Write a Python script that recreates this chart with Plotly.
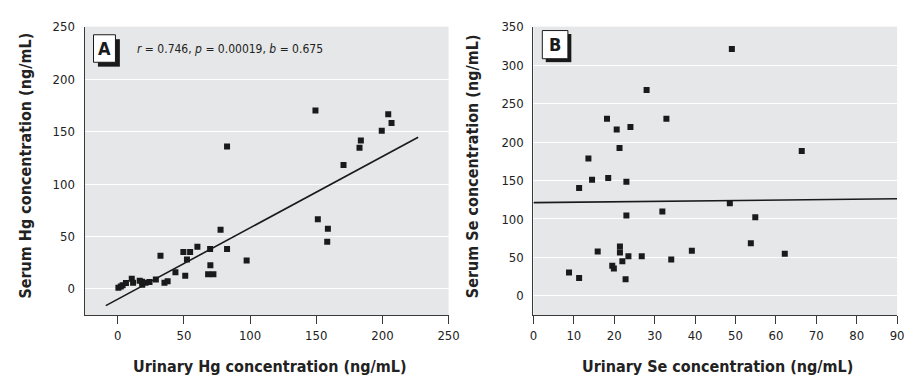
import plotly.graph_objects as go
from plotly.subplots import make_subplots

# ---------------- Data ----------------
# Panel A: urinary Hg vs serum Hg (ng/mL)
hg_urinary = [0.5, 2.3, 3.7, 6.2, 10.6, 11.6, 16.6, 18.5, 18.3, 21.0, 24.0, 28.8, 32.3,
              35.3, 37.7, 43.6, 51.0, 49.6, 54.7, 52.3, 60.2, 69.8, 82.6, 77.7, 70.0,
              68.3, 72.3, 97.4, 82.6, 151.2, 158.8, 158.3, 149.4, 204.4, 206.9, 199.5,
              183.7, 182.7, 170.6]
hg_serum = [1.2, 2.2, 3.5, 5.6, 9.6, 5.9, 7.8, 4.0, 6.9, 5.9, 6.6, 9.1, 31.6,
            5.9, 7.2, 15.9, 12.5, 35.3, 35.3, 28.1, 40.3, 38.1, 38.1, 56.5, 22.6,
            14.0, 14.0, 27.2, 135.8, 66.5, 57.4, 44.9, 170.1, 166.4, 158.2, 150.7,
            141.4, 134.5, 118.0]
hg_fit_x = [-9, 227]
hg_fit_y = [-15.9, 144.5]
hg_stats = "<i>r</i> = 0.746, <i>p</i> = 0.00019, <i>b</i> = 0.675"

# Panel B: urinary Se vs serum Se (ng/mL)
se_urinary = [49.1, 28.0, 18.2, 32.9, 20.6, 24.0, 21.3, 13.6, 66.4, 14.5, 18.5, 23.0,
              11.3, 48.6, 31.9, 23.0, 54.9, 53.8, 62.2, 39.2, 34.1, 26.8, 23.5, 21.4,
              21.4, 22.0, 15.9, 19.5, 19.9, 22.8, 8.8, 11.3]
se_serum = [321.0, 267.8, 230.4, 230.4, 216.4, 219.4, 192.1, 178.6, 188.3, 150.9, 153.4,
            148.3, 140.3, 120.3, 109.7, 104.6, 102.4, 68.4, 54.8, 58.7, 47.2, 51.4, 51.4,
            64.2, 56.5, 45.0, 57.8, 39.1, 35.7, 21.7, 30.6, 23.3]
se_fit_x = [0, 90]
se_fit_y = [121.2, 126.3]

hg_xticks = [0, 50, 100, 150, 200, 250]
hg_yticks = [0, 50, 100, 150, 200, 250]
se_xticks = [0, 10, 20, 30, 40, 50, 60, 70, 80, 90]
se_yticks = [0, 50, 100, 150, 200, 250, 300, 350]

hg_xtitle = "Urinary Hg concentration (ng/mL)"
hg_ytitle = "Serum Hg concentration (ng/mL)"
se_xtitle = "Urinary Se concentration (ng/mL)"
se_ytitle = "Serum Se concentration (ng/mL)"

# ---------------- Layout helpers ----------------
W, H = 914, 376
FONT = "Liberation Sans Narrow, DejaVu Sans Condensed, Arial Narrow, Roboto, sans-serif"
BG = "#e6e7e8"
INK = "#1a1a1a"
AXIS = "#3a3a3a"


def px(x):
    return x / W


def py(y):
    return 1 - y / H


fig = make_subplots(rows=1, cols=2)

marker = dict(symbol="square", size=6, color=INK, line=dict(width=0))
fig.add_trace(go.Scatter(x=hg_urinary, y=hg_serum, mode="markers", marker=marker,
                         showlegend=False, hoverinfo="x+y"), row=1, col=1)
fig.add_trace(go.Scatter(x=hg_fit_x, y=hg_fit_y, mode="lines",
                         line=dict(color=INK, width=1.6), showlegend=False), row=1, col=1)
fig.add_trace(go.Scatter(x=se_urinary, y=se_serum, mode="markers", marker=marker,
                         showlegend=False, hoverinfo="x+y"), row=1, col=2)
fig.add_trace(go.Scatter(x=se_fit_x, y=se_fit_y, mode="lines",
                         line=dict(color=INK, width=1.6), showlegend=False), row=1, col=2)

ydom = [py(314), py(20)]
common_x = dict(showgrid=False, zeroline=False, showline=True, linecolor=AXIS, linewidth=1.3,
                ticks="outside", ticklen=8, tickwidth=1.2, tickcolor=AXIS,
                tickfont=dict(family=FONT, size=13, color="#222"))
common_y = dict(showgrid=True, gridcolor="white", gridwidth=1.3, zeroline=False,
                showline=True, linecolor=AXIS, linewidth=1.3, ticks="", ticklabelstandoff=6,
                tickfont=dict(family=FONT, size=13, color="#222"))

fig.update_xaxes(domain=[px(82), px(452)], range=[-25, 250], tickvals=hg_xticks, row=1, col=1, **common_x)
fig.update_yaxes(domain=ydom, range=[-25, 250], tickvals=hg_yticks, row=1, col=1, **common_y)
fig.update_xaxes(domain=[px(538.3), px(908)], range=[0, 90], tickvals=se_xticks, row=1, col=2, **common_x)
fig.update_yaxes(domain=ydom, range=[-25, 350], tickvals=se_yticks, row=1, col=2, **common_y)

shapes = []
annotations = []


def label_box(x0, y0, x1, y1, off, letter):
    shapes.append(dict(type="rect", xref="paper", yref="paper",
                       x0=px(x0 + off), x1=px(x1 + off), y0=py(y1 + off), y1=py(y0 + off),
                       fillcolor=INK, line=dict(width=0), layer="above"))
    shapes.append(dict(type="rect", xref="paper", yref="paper",
                       x0=px(x0), x1=px(x1), y0=py(y1), y1=py(y0),
                       fillcolor="white", line=dict(color=INK, width=1), layer="above"))
    annotations.append(dict(text="<b>%s</b>" % letter, xref="paper", yref="paper",
                            x=px((x0 + x1) / 2), y=py((y0 + y1) / 2), showarrow=False,
                            xanchor="center", yanchor="middle",
                            font=dict(family=FONT, size=18, color=INK)))


label_box(91, 28.3, 113.3, 56.3, 4.5, "A")
label_box(547.3, 24, 573.3, 52.7, 3.5, "B")

annotations.append(dict(text=hg_stats, xref="paper", yref="paper", x=px(133), y=py(42.7),
                        xanchor="left", yanchor="middle", showarrow=False,
                        font=dict(family=FONT, size=12, color="#222")))

title_font = dict(family=FONT, size=16, color="#222")
annotations.append(dict(text="<b>%s</b>" % hg_xtitle, xref="paper", yref="paper",
                        x=px(270), y=py(366), xanchor="center", yanchor="middle",
                        showarrow=False, font=title_font))
annotations.append(dict(text="<b>%s</b>" % se_xtitle, xref="paper", yref="paper",
                        x=px(725), y=py(366), xanchor="center", yanchor="middle",
                        showarrow=False, font=title_font))
annotations.append(dict(text="<b>%s</b>" % hg_ytitle, xref="paper", yref="paper",
                        x=px(22), y=py(162), xanchor="center", yanchor="middle",
                        textangle=-90, showarrow=False, font=title_font))
annotations.append(dict(text="<b>%s</b>" % se_ytitle, xref="paper", yref="paper",
                        x=px(477), y=py(162), xanchor="center", yanchor="middle",
                        textangle=-90, showarrow=False, font=title_font))

fig.update_layout(width=W, height=H, margin=dict(l=0, r=0, t=0, b=0),
                  paper_bgcolor="white", plot_bgcolor=BG,
                  shapes=shapes, annotations=annotations,
                  font=dict(family=FONT))

fig.write_html("out.html", config={"displayModeBar": False},
               post_script="document.body.style.margin='0';document.body.style.overflow='hidden';")
